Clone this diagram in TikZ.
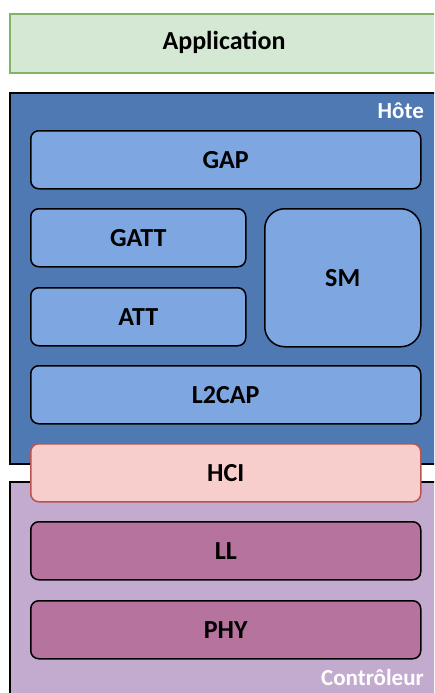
\documentclass[tikz,border=0pt]{standalone}
\usepackage{fontspec}
\setmainfont{Carlito}
\usepackage{tikz}
\usetikzlibrary{positioning}
\definecolor{appgreen}{HTML}{D5E8D4}
\definecolor{appborder}{HTML}{82B366}
\definecolor{hostblue}{HTML}{4F79B3}
\definecolor{layerblue}{HTML}{7EA6E0}
\definecolor{hcired}{HTML}{F8CECC}
\definecolor{hciborder}{HTML}{B85450}
\definecolor{ctrlpurple}{HTML}{C3ABCF}
\definecolor{layerpurple}{HTML}{B5739D}
\tikzset{
  zonebox/.style={
    draw=black, rectangle, line width=2pt, anchor=north west
  },
  layerbox/.style={
    draw=black, rectangle, rounded corners=8pt, line width=1.5pt,
    anchor=north west, minimum height=58pt, inner sep=0pt,
    font=\fontsize{26}{30}\selectfont\bfseries
  },
  zonelabel/.style={
    text=white, inner sep=0pt, font=\fontsize{23}{26}\selectfont\bfseries
  }
}

\begin{document}
\begin{tikzpicture}[x=1pt, y=-1pt]
        \useasboundingbox (0,0) rectangle (434,693);
        \clip (0,0) rectangle (434,693);
        % application on top
        \node[zonebox, draw=appborder, fill=appgreen, minimum width=440pt, minimum height=59pt,
              inner sep=0pt] (app) at (9,13) {};
        \node[font=\fontsize{26}{30}\selectfont\bfseries] (apptext) at (224,42) {Application};

        % host
        \node[zonebox, fill=hostblue, minimum width=440pt, minimum height=371pt] (host) at (9,92) {};
        \node[zonelabel, anchor=east] (hostlabel) at (424,111) {Hôte};
        \node[layerbox, fill=layerblue, minimum width=390pt] (gap) at (30,130) {GAP};
        \node[layerbox, fill=layerblue, minimum width=215pt] (gatt) at (30,208) {GATT};
        \node[layerbox, fill=layerblue, minimum width=215pt] (att) at (30,287) {ATT};
        \node[layerbox, fill=layerblue, minimum width=156pt, minimum height=138pt,
              rounded corners=20pt] (sm) at (264,208) {SM};
        \node[layerbox, fill=layerblue, minimum width=390pt] (l2cap) at (30,365) {L2CAP};

        % controller
        \node[zonebox, fill=ctrlpurple, minimum width=440pt, minimum height=240pt] (ctrl) at (9,481) {};
        \node[zonelabel, anchor=east] (ctrllabel) at (424,678) {Contrôleur};
        \node[layerbox, fill=layerpurple, minimum width=390pt] (ll) at (30,521) {LL};
        \node[layerbox, fill=layerpurple, minimum width=390pt] (phy) at (30,600) {PHY};

        % interface between both
        \node[layerbox, draw=hciborder, fill=hcired, minimum width=390pt] (hci) at (30,443) {HCI};
      \end{tikzpicture}
\end{document}
